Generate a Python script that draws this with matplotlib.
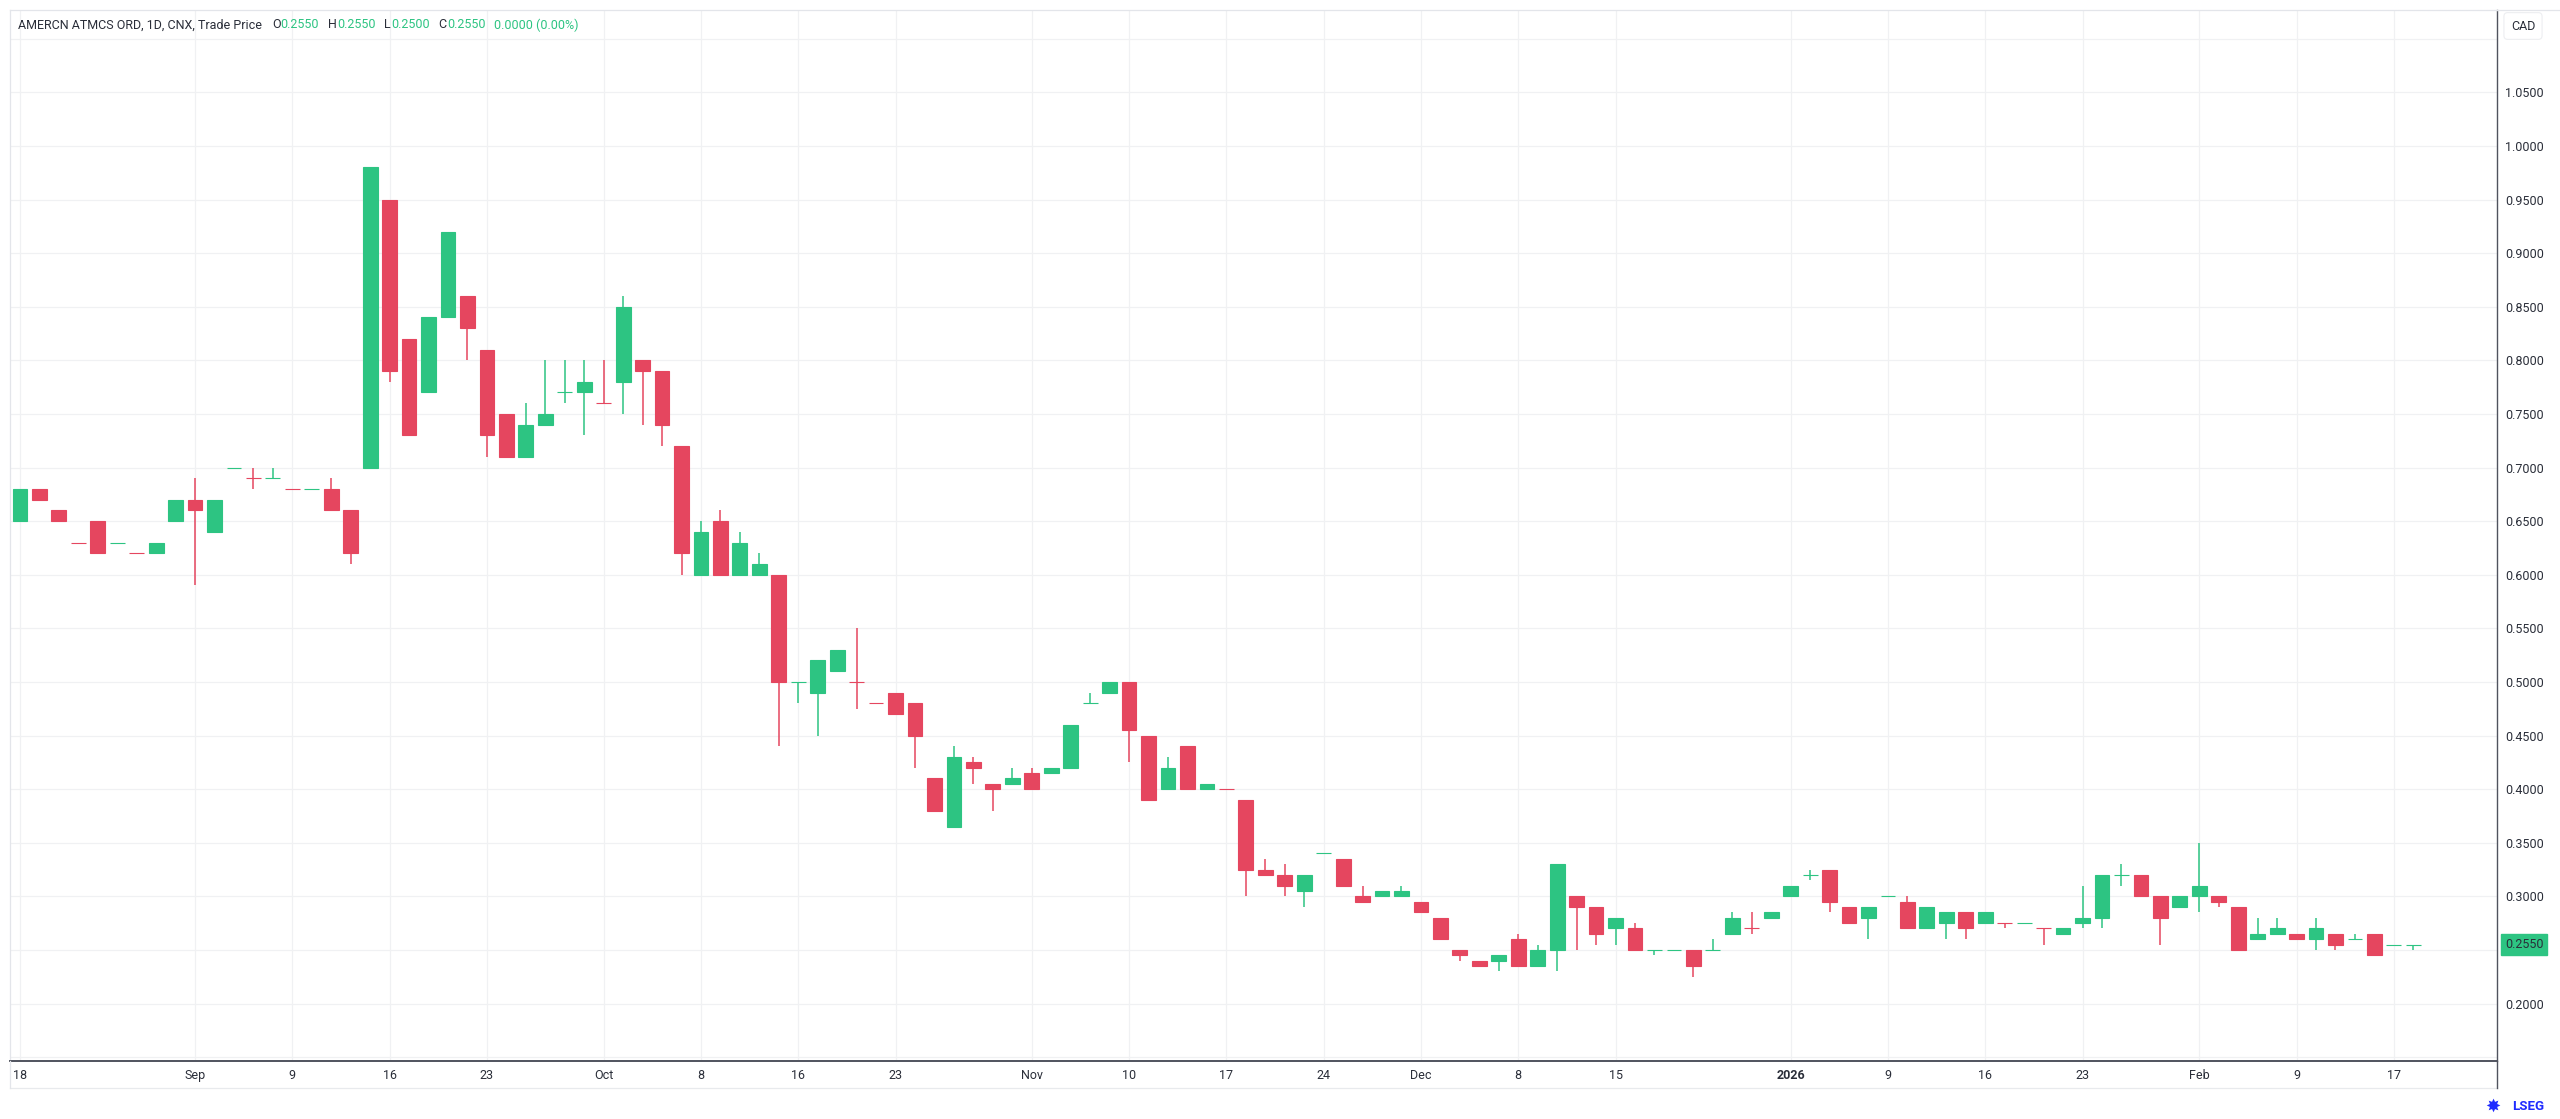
import numpy as np
import pandas as pd
import matplotlib
matplotlib.use('Agg')
import matplotlib.pyplot as plt
from matplotlib.lines import Line2D

# AMERCN ATMCS ORD daily candles, CNX, Aug 2025 - Feb 2026
aug = [18, 19, 20, 21, 22, 25, 26, 27, 28]
sep = [2, 3, 4, 5, 8, 9, 10, 11, 12, 15, 16, 17, 18, 19, 22, 23, 24, 25, 26, 29, 30]
octo = [1, 2, 3, 6, 7, 8, 9, 10, 14, 15, 16, 17, 20, 21, 22, 23, 24, 27, 28, 29, 30, 31]
nov = [3, 4, 5, 6, 7, 10, 11, 12, 13, 14, 17, 18, 19, 20, 21, 24, 25, 26, 27, 28]
dec = [1, 2, 3, 4, 5, 8, 9, 10, 11, 12, 15, 16, 17, 18, 19, 22, 23, 29, 30]
jan = [2, 5, 6, 7, 8, 9, 12, 13, 14, 15, 16, 19, 20, 21, 22, 23, 26, 27, 28, 29, 30]
feb = [2, 3, 4, 5, 6, 9, 10, 11, 12, 13, 17, 18]

dates = ([f'2025-08-{d:02d}' for d in aug] + [f'2025-09-{d:02d}' for d in sep] +
         [f'2025-10-{d:02d}' for d in octo] + [f'2025-11-{d:02d}' for d in nov] +
         [f'2025-12-{d:02d}' for d in dec] + [f'2026-01-{d:02d}' for d in jan] +
         [f'2026-02-{d:02d}' for d in feb])

opens = [0.65, 0.68, 0.66, 0.63, 0.65, 0.63, 0.62, 0.62, 0.65,
         0.67, 0.64, 0.70, 0.69, 0.69, 0.68, 0.68, 0.68, 0.66, 0.70, 0.95, 0.82, 0.77, 0.84, 0.86, 0.81,
         0.75, 0.71, 0.74, 0.77, 0.77,
         0.76, 0.78, 0.80, 0.79, 0.72, 0.60, 0.65, 0.60, 0.60, 0.60, 0.50, 0.49, 0.51, 0.50, 0.48, 0.49,
         0.48, 0.41, 0.365, 0.425, 0.405, 0.405,
         0.415, 0.415, 0.42, 0.48, 0.49, 0.50, 0.45, 0.40, 0.44, 0.40, 0.40, 0.39, 0.325, 0.32, 0.305,
         0.34, 0.335, 0.30, 0.30, 0.30,
         0.295, 0.28, 0.25, 0.24, 0.24, 0.26, 0.235, 0.25, 0.30, 0.29, 0.27, 0.27, 0.25, 0.25, 0.25,
         0.25, 0.265, 0.27, 0.28,
         0.30, 0.32, 0.325, 0.29, 0.28, 0.30, 0.295, 0.27, 0.275, 0.285, 0.275, 0.275, 0.275, 0.27,
         0.265, 0.275, 0.28, 0.32, 0.32, 0.30, 0.29,
         0.30, 0.30, 0.29, 0.26, 0.265, 0.265, 0.26, 0.265, 0.26, 0.265, 0.255, 0.255]
highs = [0.68, 0.68, 0.66, 0.63, 0.65, 0.63, 0.62, 0.63, 0.67,
         0.69, 0.67, 0.70, 0.70, 0.70, 0.68, 0.68, 0.69, 0.66, 0.98, 0.95, 0.82, 0.84, 0.92, 0.86, 0.81,
         0.75, 0.76, 0.80, 0.80, 0.80,
         0.80, 0.86, 0.80, 0.79, 0.72, 0.65, 0.66, 0.64, 0.62, 0.60, 0.50, 0.52, 0.53, 0.55, 0.48, 0.49,
         0.48, 0.41, 0.44, 0.43, 0.405, 0.42,
         0.42, 0.42, 0.46, 0.49, 0.50, 0.50, 0.45, 0.43, 0.44, 0.405, 0.40, 0.39, 0.335, 0.33, 0.32,
         0.34, 0.335, 0.31, 0.305, 0.31,
         0.295, 0.28, 0.25, 0.24, 0.245, 0.265, 0.255, 0.33, 0.30, 0.29, 0.28, 0.275, 0.25, 0.25, 0.25,
         0.26, 0.285, 0.285, 0.285,
         0.31, 0.325, 0.325, 0.29, 0.29, 0.30, 0.30, 0.29, 0.285, 0.285, 0.285, 0.275, 0.275, 0.27,
         0.27, 0.31, 0.32, 0.33, 0.32, 0.30, 0.30,
         0.35, 0.30, 0.29, 0.28, 0.28, 0.265, 0.28, 0.265, 0.265, 0.265, 0.255, 0.255]
lows = [0.65, 0.67, 0.65, 0.63, 0.62, 0.63, 0.62, 0.62, 0.65,
        0.59, 0.64, 0.70, 0.68, 0.69, 0.68, 0.68, 0.66, 0.61, 0.70, 0.78, 0.73, 0.77, 0.84, 0.80, 0.71,
        0.71, 0.71, 0.74, 0.76, 0.73,
        0.76, 0.75, 0.74, 0.72, 0.60, 0.60, 0.60, 0.60, 0.60, 0.44, 0.48, 0.45, 0.51, 0.475, 0.48, 0.47,
        0.42, 0.38, 0.365, 0.405, 0.38, 0.405,
        0.40, 0.415, 0.42, 0.48, 0.49, 0.425, 0.39, 0.40, 0.40, 0.40, 0.40, 0.30, 0.32, 0.30, 0.29,
        0.34, 0.31, 0.295, 0.30, 0.30,
        0.285, 0.26, 0.24, 0.235, 0.23, 0.235, 0.235, 0.23, 0.25, 0.255, 0.255, 0.25, 0.245, 0.25, 0.225,
        0.25, 0.265, 0.265, 0.28,
        0.30, 0.315, 0.285, 0.275, 0.26, 0.30, 0.27, 0.27, 0.26, 0.26, 0.275, 0.27, 0.275, 0.255,
        0.265, 0.27, 0.27, 0.31, 0.30, 0.255, 0.29,
        0.285, 0.29, 0.25, 0.26, 0.265, 0.26, 0.25, 0.25, 0.26, 0.245, 0.255, 0.25]
closes = [0.68, 0.67, 0.65, 0.63, 0.62, 0.63, 0.62, 0.63, 0.67,
          0.66, 0.67, 0.70, 0.69, 0.69, 0.68, 0.68, 0.66, 0.62, 0.98, 0.79, 0.73, 0.84, 0.92, 0.83, 0.73,
          0.71, 0.74, 0.75, 0.77, 0.78,
          0.76, 0.85, 0.79, 0.74, 0.62, 0.64, 0.60, 0.63, 0.61, 0.50, 0.50, 0.52, 0.53, 0.50, 0.48, 0.47,
          0.45, 0.38, 0.43, 0.42, 0.40, 0.41,
          0.40, 0.42, 0.46, 0.48, 0.50, 0.455, 0.39, 0.42, 0.40, 0.405, 0.40, 0.325, 0.32, 0.31, 0.32,
          0.34, 0.31, 0.295, 0.305, 0.305,
          0.285, 0.26, 0.245, 0.235, 0.245, 0.235, 0.25, 0.33, 0.29, 0.265, 0.28, 0.25, 0.25, 0.25, 0.235,
          0.25, 0.28, 0.27, 0.285,
          0.31, 0.32, 0.295, 0.275, 0.29, 0.30, 0.27, 0.29, 0.285, 0.27, 0.285, 0.275, 0.275, 0.27,
          0.27, 0.28, 0.32, 0.32, 0.30, 0.28, 0.30,
          0.31, 0.295, 0.25, 0.265, 0.27, 0.26, 0.27, 0.255, 0.26, 0.245, 0.255, 0.255]

tick_dates = ['2025-08-18', '2025-09-02', '2025-09-09', '2025-09-16', '2025-09-23', '2025-10-01',
              '2025-10-08', '2025-10-16', '2025-10-23', '2025-11-03', '2025-11-10', '2025-11-17',
              '2025-11-24', '2025-12-01', '2025-12-08', '2025-12-15', '2026-01-02', '2026-01-09',
              '2026-01-16', '2026-01-23', '2026-02-02', '2026-02-09', '2026-02-17']
tick_labels = ['18', 'Sep', '9', '16', '23', 'Oct', '8', '16', '23', 'Nov', '10', '17',
               '24', 'Dec', '8', '15', '2026', '9', '16', '23', 'Feb', '9', '17']

UP = '#2DC482'
DOWN = '#E5465F'
GRID = '#F0F1F3'
TXT = '#2A2E39'
FS = 9
W_PX, H_PX = 2560, 1119

plt.rcParams['font.family'] = ['Roboto', 'DejaVu Sans']

df = pd.DataFrame({'date': dates, 'o': opens, 'h': highs, 'l': lows, 'c': closes})
prev_close = df['c'].shift(1).fillna(df['c'])
up = (df['c'] > df['o']) | ((df['c'] == df['o']) & (df['c'] >= prev_close))
colors = np.where(up, UP, DOWN)
x = np.arange(len(df))

fig = plt.figure(figsize=(W_PX / 100, H_PX / 100), dpi=100)
left, right, bottom, top = 10 / W_PX, 2497 / W_PX, 1 - 1061 / H_PX, 1 - 10 / H_PX
ax = fig.add_axes([left, bottom, right - left, top - bottom])

# wicks and bodies
ax.vlines(x, df['l'], df['h'], colors=colors, linewidth=1.1, zorder=2)
body_lo = np.minimum(df['o'], df['c'])
body_h = np.abs(df['c'] - df['o'])
ax.bar(x, body_h, bottom=body_lo, width=0.76, color=colors, edgecolor=colors,
       linewidth=0.8, zorder=3)

ax.set_xlim(-0.51, 127.3)
ax.set_ylim(0.1464, 1.1268)

last = closes[-1]
ax.set_yticks(np.arange(0.15, 1.101, 0.05))
# the 0.2500 label sits under the last price tag, as in the reference
ax.yaxis.set_major_formatter(plt.FuncFormatter(
    lambda v, p: f'{v:.4f}' if 0.19 < v < 1.06 and abs(v - last) > 0.02 else ''))
ax.yaxis.tick_right()
ax.tick_params(axis='y', length=0, pad=6, labelsize=FS, labelcolor=TXT)

tick_pos = [dates.index(d) for d in tick_dates]
ax.set_xticks(tick_pos)
ax.set_xticklabels(tick_labels)
ax.tick_params(axis='x', length=0, pad=6, labelsize=FS, labelcolor=TXT)
for lab in ax.get_xticklabels():
    if lab.get_text() == '2026':
        lab.set_fontweight('bold')

ax.grid(True, color=GRID, linewidth=0.9, zorder=0)
ax.set_axisbelow(True)
for s in ['left', 'top']:
    ax.spines[s].set_color('#E3E5EA')
    ax.spines[s].set_linewidth(0.9)
ax.spines['right'].set_color('#50535E')
ax.spines['right'].set_linewidth(1.0)
ax.spines['bottom'].set_color('#50535E')
ax.spines['bottom'].set_linewidth(1.4)

# outer frame of the time scale row
yb = 1 - 1088 / H_PX
fig.add_artist(Line2D([left, right], [yb, yb], color='#E8EAED', lw=0.9))
fig.add_artist(Line2D([left, left], [yb, bottom], color='#E3E5EA', lw=0.9))
fig.add_artist(Line2D([right, right], [yb, bottom], color='#50535E', lw=1.0))
fig.add_artist(Line2D([right, 1], [top, top], color='#E3E5EA', lw=0.9))

# price axis currency and last price label
fig.text(2523 / W_PX, 1 - 26 / H_PX, 'CAD', fontsize=FS, color=TXT, va='center', ha='center',
         bbox=dict(boxstyle='round,pad=0.55,rounding_size=0.3', facecolor='white',
                   edgecolor='#EDEEF1', linewidth=0.8))
fig.text(2505 / W_PX, 1 - 944.5 / H_PX, f'{last:.4f}', fontsize=FS, color=TXT,
         va='center', ha='left', zorder=5,
         bbox=dict(boxstyle='square,pad=0.3', facecolor=UP, edgecolor=UP))

# legend line at top left
fig.canvas.draw()
r = fig.canvas.get_renderer()
parts = [('AMERCN ATMCS ORD, 1D, CNX, Trade Price', TXT, 10),
         ('O', TXT, 0), (f'{opens[-1]:.4f}', UP, 9),
         ('H', TXT, 0), (f'{highs[-1]:.4f}', UP, 9),
         ('L', TXT, 0), (f'{lows[-1]:.4f}', UP, 9),
         ('C', TXT, 0), (f'{closes[-1]:.4f}', UP, 9),
         ('0.0000 (0.00%)', UP, 0)]
tx = 18 / W_PX
ty = 1 - 25 / H_PX
for s, c, gap in parts:
    t = fig.text(tx, ty, s, color=c, fontsize=FS, va='center', ha='left')
    tx += t.get_window_extent(r).width / W_PX + gap / W_PX

# LSEG mark
fig.text(2493 / W_PX, 1 - 1107 / H_PX, '✸', fontsize=13, color='#1F2BFF',
         va='center', ha='center', family='DejaVu Sans')
fig.text(2512 / W_PX, 1 - 1107 / H_PX, 'LSEG', fontsize=9.5, fontweight='bold',
         color='#1F2BFF', va='center', ha='left')

fig.savefig('out.png', dpi=100, facecolor='white')
